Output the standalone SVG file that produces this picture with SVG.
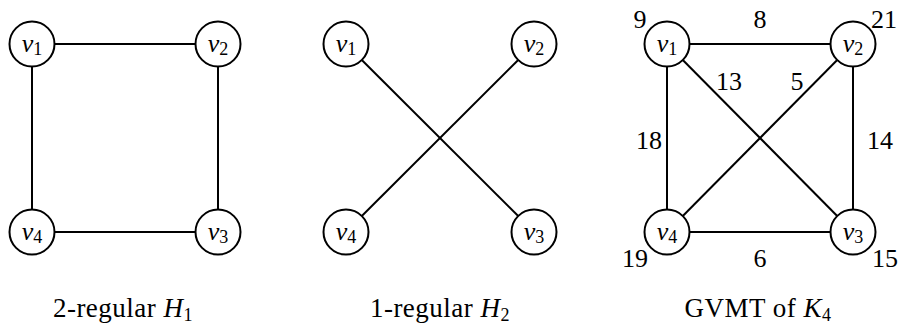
<svg xmlns="http://www.w3.org/2000/svg" width="900" height="324" viewBox="0 0 900 324">
<style>
.n circle{fill:#fff;stroke:#000;stroke-width:2}
.e line{stroke:#000;stroke-width:2}
text{font-family:'Liberation Serif','DejaVu Serif',serif;font-size:26px;fill:#000}
.lbl{text-anchor:middle}
.v{font-style:italic}
.s{font-size:18px;font-style:normal}
.cap{font-size:27px;letter-spacing:0.5px}
</style>
<rect width="900" height="324" fill="#fff"/>
<g id="connectors" class="e">
<line x1="54.5" y1="44" x2="195.5" y2="44"/>
<line x1="32" y1="66.5" x2="32" y2="209.5"/>
<line x1="218" y1="66.5" x2="218" y2="209.5"/>
<line x1="54.5" y1="232" x2="195.5" y2="232"/>
<line x1="361.8" y1="60" x2="518.2" y2="216"/>
<line x1="518.2" y1="60" x2="361.8" y2="216"/>
<line x1="689.5" y1="44" x2="830.5" y2="44"/>
<line x1="667" y1="66.5" x2="667" y2="209.5"/>
<line x1="853" y1="66.5" x2="853" y2="209.5"/>
<line x1="689.5" y1="232" x2="830.5" y2="232"/>
<line x1="682.8" y1="60" x2="837.2" y2="216"/>
<line x1="837.2" y1="60" x2="682.8" y2="216"/>
</g>
<g id="h1v1" class="n"><circle cx="32" cy="44" r="22.5"/><text class="lbl v" x="32" y="52">v<tspan class="s" dy="3">1</tspan></text></g>
<g id="h1v2" class="n"><circle cx="218" cy="44" r="22.5"/><text class="lbl v" x="218" y="52">v<tspan class="s" dy="3">2</tspan></text></g>
<g id="h1v3" class="n"><circle cx="218" cy="232" r="22.5"/><text class="lbl v" x="218" y="240">v<tspan class="s" dy="3">3</tspan></text></g>
<g id="h1v4" class="n"><circle cx="32" cy="232" r="22.5"/><text class="lbl v" x="32" y="240">v<tspan class="s" dy="3">4</tspan></text></g>
<g id="h2v1" class="n"><circle cx="346" cy="44" r="22.5"/><text class="lbl v" x="346" y="52">v<tspan class="s" dy="3">1</tspan></text></g>
<g id="h2v2" class="n"><circle cx="534" cy="44" r="22.5"/><text class="lbl v" x="534" y="52">v<tspan class="s" dy="3">2</tspan></text></g>
<g id="h2v3" class="n"><circle cx="534" cy="232" r="22.5"/><text class="lbl v" x="534" y="240">v<tspan class="s" dy="3">3</tspan></text></g>
<g id="h2v4" class="n"><circle cx="346" cy="232" r="22.5"/><text class="lbl v" x="346" y="240">v<tspan class="s" dy="3">4</tspan></text></g>
<g id="kv1" class="n"><circle cx="667" cy="44" r="22.5"/><text class="lbl v" x="667" y="52">v<tspan class="s" dy="3">1</tspan></text></g>
<g id="kv2" class="n"><circle cx="853" cy="44" r="22.5"/><text class="lbl v" x="853" y="52">v<tspan class="s" dy="3">2</tspan></text></g>
<g id="kv3" class="n"><circle cx="853" cy="232" r="22.5"/><text class="lbl v" x="853" y="240">v<tspan class="s" dy="3">3</tspan></text></g>
<g id="kv4" class="n"><circle cx="667" cy="232" r="22.5"/><text class="lbl v" x="667" y="240">v<tspan class="s" dy="3">4</tspan></text></g>
<g id="labels">
<text class="lbl" x="640" y="28">9</text>
<text class="lbl" x="760" y="28">8</text>
<text class="lbl" x="884" y="28">21</text>
<text class="lbl" x="729" y="90">13</text>
<text class="lbl" x="797" y="90">5</text>
<text class="lbl" x="649" y="149">18</text>
<text class="lbl" x="880" y="149">14</text>
<text class="lbl" x="635" y="267">19</text>
<text class="lbl" x="760" y="267">6</text>
<text class="lbl" x="885" y="267">15</text>
<text class="lbl cap" x="123" y="317">2-regular <tspan class="v">H</tspan><tspan class="s" dy="4">1</tspan></text>
<text class="lbl cap" x="440" y="317">1-regular <tspan class="v">H</tspan><tspan class="s" dy="4">2</tspan></text>
<text class="lbl cap" x="758" y="317">GVMT of <tspan class="v">K</tspan><tspan class="s" dy="4">4</tspan></text>
</g>
</svg>
